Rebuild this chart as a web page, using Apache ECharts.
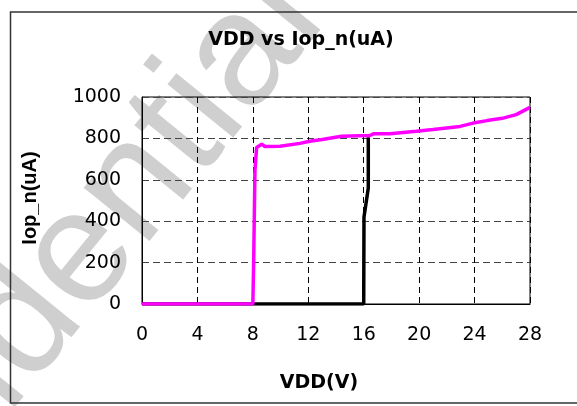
<!DOCTYPE html>
<html>
<head>
<meta charset="utf-8">
<script src="https://cdn.jsdelivr.net/npm/echarts@6/dist/echarts.min.js"></script>
<style>
html,body{margin:0;padding:0;background:#fff;}
#chart{width:577px;height:406px;}
</style>
</head>
<body>
<div id="chart"></div>
<script>
var chartTitle = 'VDD vs Iop_n(uA)';
var xName = 'VDD(V)';
var yName = 'Iop_n(uA)';
var watermark = 'Confidential';

var magentaVdd = [0, 2, 4, 6, 8, 8.06, 8.15, 8.27, 8.64, 8.87, 9.96, 11.4, 12.1, 13, 14.4, 16.45, 16.7, 17.9, 19.8, 21, 22.95, 23.9, 24.9, 26, 27, 28];
var magentaIop = [0, 0, 0, 0, 0, 211, 644, 756, 772, 761, 762, 776, 786, 795, 810, 814, 822, 823, 834, 843, 858, 874, 886, 897, 915, 950];

var blackVdd = [0, 8, 16, 16.02, 16.33, 16.33];
var blackIop = [0, 0, 0, 420, 560, 805];

function pairs(xs, ys) { return xs.map(function (x, i) { return [x, ys[i]]; }); }

var chart = echarts.init(document.getElementById('chart'), null, {renderer: 'canvas'});
var tickFont = {fontFamily: 'DejaVu Sans', fontSize: 19, color: '#000'};

chart.setOption({
  animation: false,
  backgroundColor: '#fff',
  title: {
    text: chartTitle,
    left: 296,
    top: 26,
    textAlign: 'center',
    textStyle: {fontFamily: 'DejaVu Sans', fontWeight: 'bold', fontSize: 19, color: '#000'}
  },
  grid: {left: 142, top: 97, right: 47, height: 207, show: true, borderColor: '#000', borderWidth: 1, backgroundColor: 'transparent'},
  xAxis: {
    type: 'value', min: 0, max: 28, interval: 4,
    axisLine: {show: true, lineStyle: {color: '#000', width: 1}},
    axisTick: {show: false},
    axisLabel: Object.assign({margin: 22}, tickFont),
    splitLine: {show: true, lineStyle: {color: '#000', type: [6, 4], width: 1}}
  },
  yAxis: {
    type: 'value', min: 0, max: 1000, interval: 200,
    axisLine: {show: true, lineStyle: {color: '#000', width: 1}},
    axisTick: {show: false},
    axisLabel: Object.assign({margin: 21, formatter: function (v) { return String(v); }}, tickFont),
    splitLine: {show: true, lineStyle: {color: '#444', type: [7, 4], width: 1}}
  },
  graphic: [
    {type: 'text', x: 27, y: 322, rotation: 0.89, z: -10, silent: true,
     style: {text: watermark, fontFamily: 'Liberation Sans', fontSize: 160, fill: '#cfcfcf', align: 'center', verticalAlign: 'middle'}},
    {type: 'rect', shape: {x: 10.5, y: 12, width: 620, height: 391}, z: 100, silent: true,
     style: {fill: 'none', stroke: '#333', lineWidth: 1.5}},
    {type: 'text', x: 319, y: 383, z: 100,
     style: {text: xName, fontFamily: 'DejaVu Sans', fontWeight: 'bold', fontSize: 19, fill: '#000', align: 'center', verticalAlign: 'middle'}},
    {type: 'text', x: 30, y: 198, rotation: Math.PI / 2, z: 100,
     style: {text: yName, fontFamily: 'Liberation Sans', fontWeight: 'bold', fontSize: 20, fill: '#000', align: 'center', verticalAlign: 'middle'}}
  ],
  series: [
    {type: 'line', data: pairs(blackVdd, blackIop), showSymbol: false, z: 3,
     lineStyle: {color: '#000', width: 3.5}, itemStyle: {color: '#000'}},
    {type: 'line', data: pairs(magentaVdd, magentaIop), showSymbol: false, z: 4,
     lineStyle: {color: '#ff00ff', width: 3.5}, itemStyle: {color: '#ff00ff'}}
  ]
});
</script>
</body>
</html>
